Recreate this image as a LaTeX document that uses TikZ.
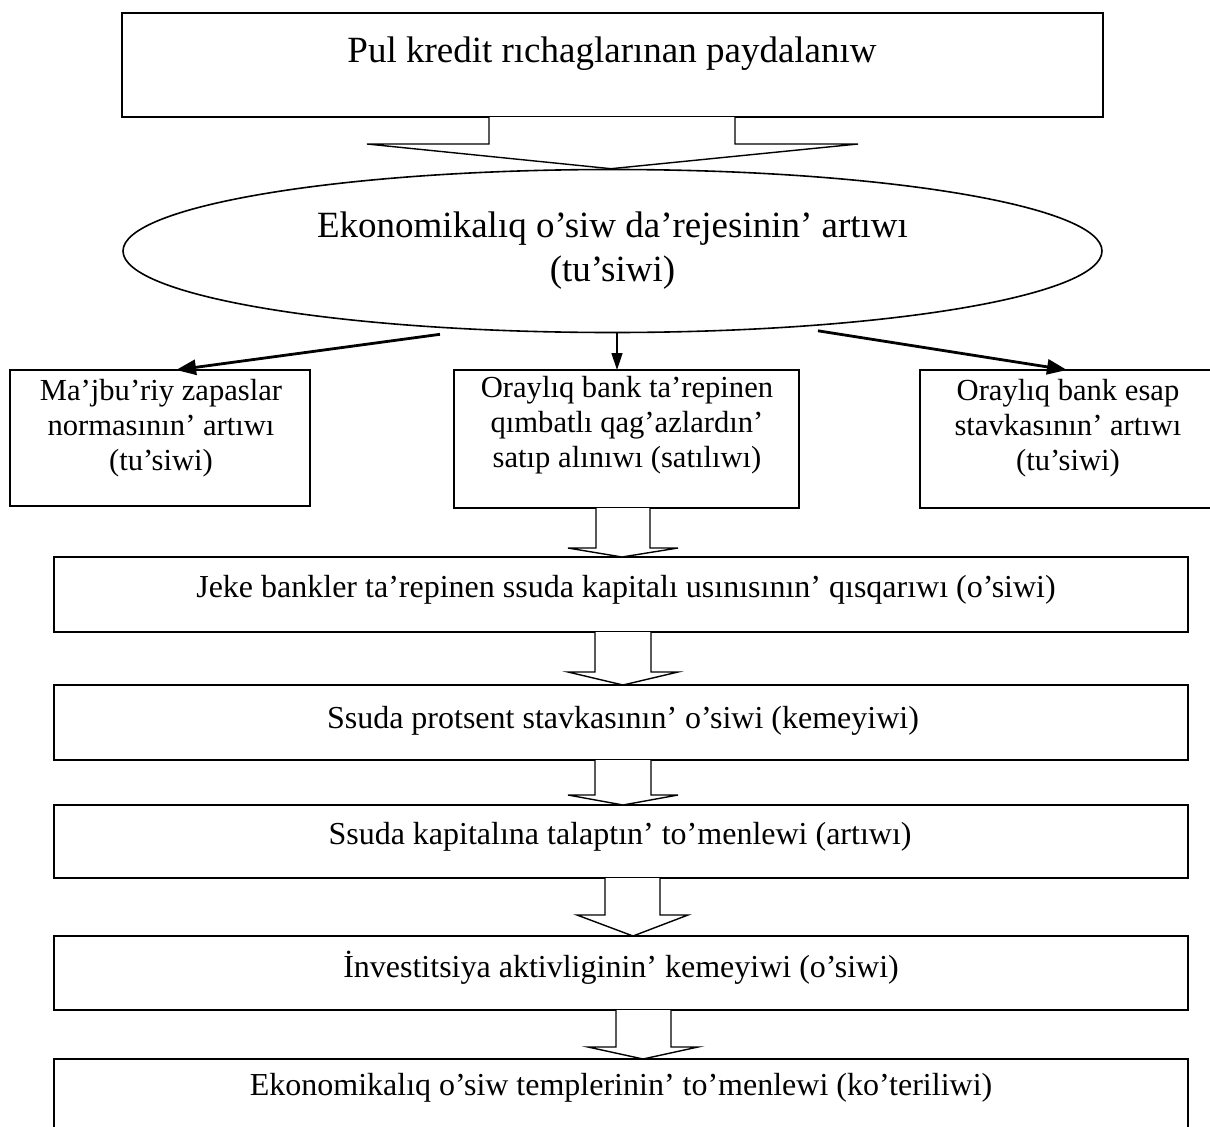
\documentclass[tikz,border=0pt]{standalone}
\usepackage{fontspec}
\setmainfont{Liberation Serif}
\usetikzlibrary{shapes.geometric,arrows.meta,calc}
\tikzset{
  boxf/.style={draw, line width=1.8pt, inner sep=0pt, outer sep=0pt},
  txtbig/.style={inner sep=0pt, align=center, font=\fontsize{37}{44}\selectfont},
  txtmid/.style={inner sep=0pt, align=center, font=\fontsize{30.6}{35.2}\selectfont},
  txtlow/.style={inner sep=0pt, align=center, font=\fontsize{32}{38}\selectfont},
  blk/.style={draw, fill=white, line width=1.4pt, line join=miter},
  arrthick/.style={line width=2.8pt, -{Triangle[length=20pt,width=15pt]}},
  arrthin/.style={line width=1.5pt, -{Triangle[length=17pt,width=11pt]}}
}
\begin{document}
\begin{tikzpicture}[x=1pt,y=-1pt]
\useasboundingbox (0,0) rectangle (1210,1127);
\clip (0,0) rectangle (1210,1127);
\fill[white] (0,0) rectangle (1210,1127);

% top box
\node[boxf, minimum width=981pt, minimum height=104pt] (top) at (612.5,65) {};
\node[txtbig] (toptxt) at (612,54) {Pul kredit rıchaglarınan paydalanıw};

% ellipse
\node[draw, ellipse, line width=1.6pt, inner sep=0pt, minimum width=979pt, minimum height=163pt, txtbig] (ell) at (612.5,251) {Ekonomikalıq o’siw da’rejesinin’ artıwı\\(tu’siwi)};

% middle row boxes
\node[boxf, minimum width=300pt, minimum height=136pt] (m1) at (160,438) {};
\node[boxf, minimum width=345pt, minimum height=138pt] (m2) at (626.5,439) {};
\node[boxf, minimum width=296pt, minimum height=138pt] (m3) at (1068,439) {};
\node[txtmid] (m1t) at (161,428) {Ma’jbu’riy zapaslar\\normasının’ artıwı\\(tu’siwi)};
\node[txtmid] (m2t) at (627,425) {Oraylıq bank ta’repinen\\qımbatlı qag’azlardın’\\satıp alınıwı (satılıwı)};
\node[txtmid] (m3t) at (1068,428) {Oraylıq bank esap\\stavkasının’ artıwı\\(tu’siwi)};

% lower boxes
\node[boxf, minimum width=1134pt, minimum height=75pt] (b1) at (621,594.5) {};
\node[boxf, minimum width=1134pt, minimum height=75pt] (b2) at (621,722.5) {};
\node[boxf, minimum width=1134pt, minimum height=73pt] (b3) at (621,841.5) {};
\node[boxf, minimum width=1134pt, minimum height=74pt] (b4) at (621,973) {};
\node[boxf, minimum width=1134pt, minimum height=75pt] (b5) at (621,1096.5) {};
\node[txtlow] (b1t) at (626,590) {Jeke bankler ta’repinen ssuda kapitalı usınısının’ qısqarıwı (o’siwi)};
\node[txtlow] (b2t) at (623,721) {Ssuda protsent stavkasının’ o’siwi (kemeyiwi)};
\node[txtlow] (b3t) at (620,837) {Ssuda kapitalına talaptın’ to’menlewi (artıwı)};
\node[txtlow] (b4t) at (621,968) {İnvestitsiya aktivliginin’ kemeyiwi (o’siwi)};
\node[txtlow] (b5t) at (621,1088) {Ekonomikalıq o’siw templerinin’ to’menlewi (ko’teriliwi)};

% block arrow top -> ellipse
\draw[blk] (489,0 |- top.south) -- (489,144) -- (367,144) -- (611,0 |- ell.north) -- (858,144) -- (735,144) -- (735,0 |- top.south);

% ellipse -> middle boxes
\draw[arrthick] ($(ell.south)+(-172.5,1)$) -- (176,0 |- m1.north);
\draw[arrthin] ($(ell.south)+(4.5,0)$) -- (617,0 |- m2.north);
\draw[arrthick] ($(ell.south)+(205.5,-2.5)$) -- (1067,0 |- m3.north);

% block arrows down the chain
\draw[blk] (596,0 |- m2.south) -- (596,548) -- (568,548) -- (622,0 |- b1.north) -- (678,548) -- (650,548) -- (650,0 |- m2.south);
\draw[blk] (595,0 |- b1.south) -- (595,672) -- (568,672) -- (623,0 |- b2.north) -- (678,672) -- (651,672) -- (651,0 |- b1.south);
\draw[blk] (595,0 |- b2.south) -- (595,795) -- (568,795) -- (623,0 |- b3.north) -- (678,795) -- (651,795) -- (651,0 |- b2.south);
\draw[blk] (605,0 |- b3.south) -- (605,915) -- (577,915) -- (633,0 |- b4.north) -- (688,915) -- (660,915) -- (660,0 |- b3.south);
\draw[blk] (616,0 |- b4.south) -- (616,1047) -- (588,1047) -- (643,0 |- b5.north) -- (698,1047) -- (671,1047) -- (671,0 |- b4.south);
\end{tikzpicture}
\end{document}
